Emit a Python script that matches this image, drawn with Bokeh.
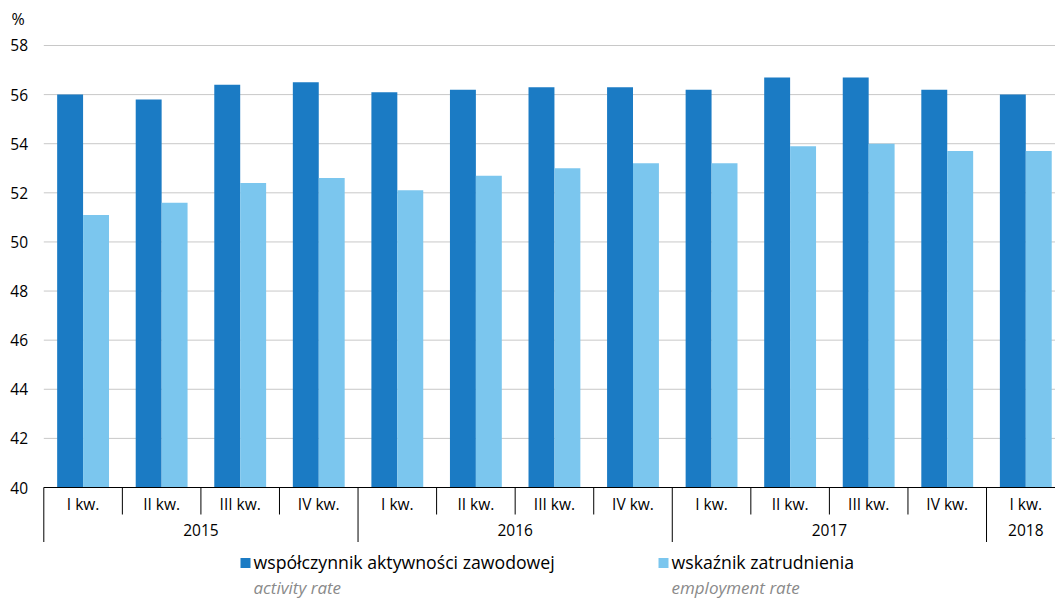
from bokeh.plotting import figure
from bokeh.models import ColumnDataSource
from bokeh.embed import file_html
from bokeh.resources import INLINE
from bokeh.core.properties import value

# ---------------- data ----------------
quarters = ["I kw.", "II kw.", "III kw.", "IV kw.",
            "I kw.", "II kw.", "III kw.", "IV kw.",
            "I kw.", "II kw.", "III kw.", "IV kw.",
            "I kw."]
years = ["2015", "2015", "2015", "2015",
         "2016", "2016", "2016", "2016",
         "2017", "2017", "2017", "2017",
         "2018"]
activity = [56.0, 55.8, 56.4, 56.5, 56.1, 56.2, 56.3, 56.3, 56.2, 56.7, 56.7, 56.2, 56.0]
employment = [51.1, 51.6, 52.4, 52.6, 52.1, 52.7, 53.0, 53.2, 53.2, 53.9, 54.0, 53.7, 53.7]
y_ticks = [40, 42, 44, 46, 48, 50, 52, 54, 56, 58]
unit_label = "%"
series_pl = ["współczynnik aktywności zawodowej", "wskaźnik zatrudnienia"]
series_en = ["activity rate", "employment rate"]
colors = ["#1b7bc4", "#7bc6ee"]

# ---------------- geometry ----------------
W, H = 1055, 600
PX_X = 78.56                  # pixels per category
PX_Y = 24.556                 # pixels per percentage point
X0_IMG = 43.3                 # left edge of first category (px)
Y40_IMG = 487.0               # baseline (px)

def xd(px):
    return (px - X0_IMG) / PX_X

def yd(py):
    return 40 - (py - Y40_IMG) / PX_Y

FONT = "Open Sans"
TXT = "#000000"

p = figure(width=W, height=H, output_backend="svg", toolbar_location=None,
           x_range=(xd(0), xd(W)), y_range=(yd(H), yd(0)),
           x_axis_location=None, y_axis_location=None,
           min_border=0, outline_line_color=None)
p.grid.visible = False
p.background_fill_color = "white"

n = len(quarters)
x_end = xd(W)

# grid lines
p.segment(x0=[0] * len(y_ticks), x1=[x_end] * len(y_ticks), y0=y_ticks, y1=y_ticks,
          line_color="#c8c8c8", line_width=1)

# y tick labels
p.text(x=[xd(27.5)] * len(y_ticks), y=y_ticks, text=[str(t) for t in y_ticks],
       text_align="right", text_baseline="middle", text_font=value(FONT),
       text_font_size="15.5px", text_color=TXT)
p.text(x=[xd(11)], y=[yd(18.5)], text=[unit_label], text_align="left",
       text_baseline="middle", text_font=value(FONT), text_font_size="16px",
       text_color=TXT)

# bars
bw = 0.33
centers = [i + 0.5 for i in range(n)]
src = ColumnDataSource(dict(xa=[c - bw / 2 for c in centers],
                            xe=[c + bw / 2 for c in centers],
                            act=activity, emp=employment))
p.vbar(x="xa", width=bw, bottom=40, top="act", source=src,
       fill_color=colors[0], line_color=None)
p.vbar(x="xe", width=bw, bottom=40, top="emp", source=src,
       fill_color=colors[1], line_color=None)

# baseline
p.segment(x0=[0], x1=[x_end], y0=[40], y1=[40], line_color="black", line_width=1)

# separators
sx, sy1 = [], []
for i in range(n):
    sx.append(i)
    long_sep = (i == 0) or (years[i] != years[i - 1])
    sy1.append(yd(541.5) if long_sep else yd(514))
p.segment(x0=sx, x1=sx, y0=[40] * len(sx), y1=sy1, line_color="black", line_width=1)

# quarter labels
p.text(x=centers, y=[yd(503)] * n, text=quarters, text_align="center",
       text_baseline="middle", text_font=value(FONT), text_font_size="15.5px",
       text_color=TXT)

# year labels
uniq = []
for y in years:
    if y not in uniq:
        uniq.append(y)
yc = []
for y in uniq:
    idx = [i for i in range(n) if years[i] == y]
    yc.append((min(idx) + max(idx) + 1) / 2)
p.text(x=yc, y=[yd(529.5)] * len(uniq), text=uniq, text_align="center",
       text_baseline="middle", text_font=value(FONT), text_font_size="15.5px",
       text_color=TXT)

# legend
sq_x = [xd(245), xd(663)]
tx_x = [xd(253), xd(671)]
p.scatter(x=sq_x, y=[yd(562.5)] * 2, marker="square", size=10,
          fill_color=colors, line_color=None)
p.text(x=tx_x, y=[yd(561)] * 2, text=series_pl, text_align="left",
       text_baseline="middle", text_font=value(FONT), text_font_size="17.7px",
       text_color=TXT)
p.text(x=tx_x, y=[yd(587)] * 2, text=series_en, text_align="left",
       text_baseline="middle", text_font=value(FONT), text_font_size="17px",
       text_font_style="italic", text_color="#8a8a8a")

open("out.html", "w").write(file_html(p, INLINE))
